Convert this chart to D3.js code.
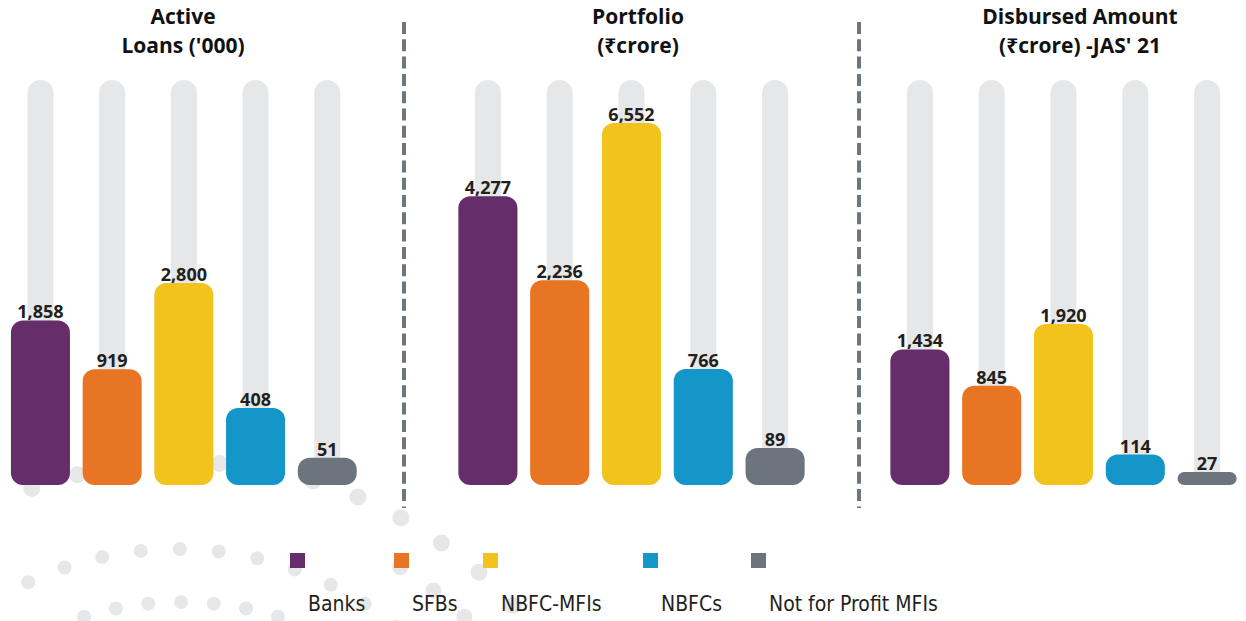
<!DOCTYPE html>
<html>
<head>
<meta charset="utf-8">
<script src="https://cdn.jsdelivr.net/npm/d3@7"></script>
<style>
  html, body { margin: 0; padding: 0; background: #fff; }
  svg { display: block; }
</style>
</head>
<body>
<svg id="chart" width="1246" height="621"></svg>
<script>
// data
const categories = ["Banks", "SFBs", "NBFC-MFIs", "NBFCs", "Not for Profit MFIs"];
const activeLoans = [1858, 919, 2800, 408, 51];
const portfolio = [4277, 2236, 6552, 766, 89];
const disbursed = [1434, 845, 1920, 114, 27];
const panelTitles = [
    ["Active", "Loans ('000)"],
    ["Portfolio", "(₹crore)"],
    ["Disbursed Amount", "(₹crore) -JAS' 21"]
];
const colors = ["#652d6a", "#e87524", "#f1c31c", "#1496c9", "#6c757d"];

// layout
const svg = d3.select('#chart');
const baseY = 485;
const trackTop = 80;
const panels = [
    { values: activeLoans, range: [4.6, 363.1], maxH: 202, exp: 0.5, titleX: 183 },
    { values: portfolio, range: [452, 811], maxH: 362, exp: 0.53, titleX: 638 },
    { values: disbursed, range: [884, 1243], maxH: 161, exp: 0.59, titleX: 1080 }
];
const legendX = [290, 394, 483, 643, 751];

// decorative dots (arcs of light circles, bottom left)
const dotArcs = [
    { cx: 177, cy: 898, r: 349, from: -0.44, n: 12, step: 0.112, size: 7 },
    { cx: 181, cy: 930, r: 328, from: -0.30, n: 7, step: 0.100, size: 7 },
    { cx: 184, cy: 912, r: 450, from: -0.345, n: 12, step: 0.106, size: 8.5 },
    { cx: 184, cy: 912, r: 407, from: 0.56, n: 3, step: 0.10, size: 8 }
];
const dotG = svg.append('g').attr('class', 'dots');
dotArcs.forEach(a => {
    d3.range(a.n).forEach(i => {
        const t = a.from + i * a.step;
        dotG.append('circle')
            .attr('cx', a.cx + a.r * Math.sin(t))
            .attr('cy', a.cy - a.r * Math.cos(t))
            .attr('r', a.size)
            .attr('fill', '#e6e7e8');
    });
});

// separators
[404, 859].forEach(x => {
    svg.append('line')
        .attr('x1', x).attr('x2', x)
        .attr('y1', 22).attr('y2', 508)
        .attr('stroke', '#6d767e')
        .attr('stroke-width', 4)
        .attr('stroke-dasharray', '12,5.3');
});

panels.forEach((p, pi) => {
    const g = svg.append('g').attr('class', 'panel');

    const x = d3.scaleBand()
        .domain(categories)
        .range(p.range)
        .paddingInner(0.177)
        .paddingOuter(0.0885);

    const y = d3.scalePow()
        .exponent(p.exp)
        .domain([0, d3.max(p.values)])
        .range([0, p.maxH]);

    const rows = categories.map((c, i) => ({ cat: c, value: p.values[i], color: colors[i] }));

    // title, two lines
    panelTitles[pi].forEach((line, li) => {
        g.append('text')
            .attr('x', p.titleX)
            .attr('y', 24.3 + li * 29)
            .attr('text-anchor', 'middle')
            .attr('font-family', "'Open Sans', 'Noto Sans', sans-serif")
            .attr('font-weight', 700)
            .attr('font-size', 21)
            .attr('fill', '#111')
            .text(line);
    });

    // gray tracks
    g.selectAll('.track')
        .data(rows)
        .enter()
        .append('rect')
        .attr('class', 'track')
        .attr('x', d => x(d.cat) + x.bandwidth() / 2 - 13)
        .attr('y', trackTop)
        .attr('width', 26)
        .attr('height', baseY - trackTop)
        .attr('rx', 13)
        .attr('fill', '#e6e7e8');

    // bars
    g.selectAll('.bar')
        .data(rows)
        .enter()
        .append('rect')
        .attr('class', 'bar')
        .attr('x', d => x(d.cat))
        .attr('y', d => baseY - y(d.value))
        .attr('width', x.bandwidth())
        .attr('height', d => y(d.value))
        .attr('rx', d => Math.min(12, y(d.value) / 2))
        .attr('fill', d => d.color);

    // value labels
    g.selectAll('.val')
        .data(rows)
        .enter()
        .append('text')
        .attr('class', 'val')
        .attr('x', d => x(d.cat) + x.bandwidth() / 2)
        .attr('y', d => baseY - y(d.value) - 2)
        .attr('text-anchor', 'middle')
        .attr('font-family', "'Open Sans', 'Noto Sans', sans-serif")
        .attr('font-weight', 700)
        .attr('font-size', 18)
        .attr('fill', '#231f20')
        .text(d => d3.format(',')(d.value));
});

// legend
const legend = svg.append('g').attr('class', 'legend');
categories.forEach((c, i) => {
    legend.append('rect')
        .attr('x', legendX[i])
        .attr('y', 553)
        .attr('width', 15)
        .attr('height', 15)
        .attr('fill', colors[i]);
    legend.append('text')
        .attr('x', legendX[i] + 18)
        .attr('y', 611)
        .attr('font-family', "'DejaVu Sans Condensed', 'DejaVu Sans', sans-serif")
        .style('font-stretch', 'condensed')
        .attr('font-size', 21)
        .attr('fill', '#231f20')
        .text(c);
});
</script>
</body>
</html>
